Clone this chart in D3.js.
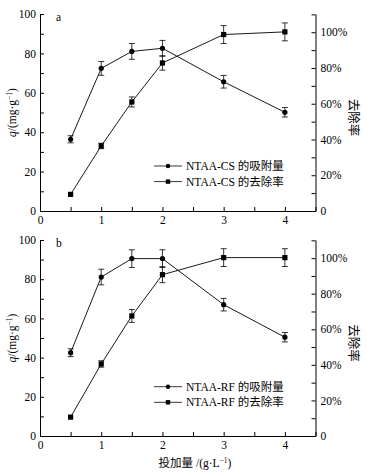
<!DOCTYPE html>
<html><head><meta charset="utf-8">
<script src="https://cdn.jsdelivr.net/npm/d3@7"></script>
<style>body{margin:0;background:#fff}svg{display:block}</style>
</head><body>
<script>
const doses = [0.5, 1, 1.5, 2, 3, 4];
const csAdsorption = [36.4, 72.4, 81.0, 82.6, 65.6, 50.1];
const csAdsorptionErr = [1.8, 3.5, 4.0, 4.0, 3.2, 2.4];
const csRemoval = [9.3, 36.4, 61.0, 82.8, 98.7, 100.2];
const csRemovalErr = [0, 1.5, 2.8, 4.0, 5.0, 5.0];
const rfAdsorption = [42.5, 81.1, 90.5, 90.5, 67.0, 50.4];
const rfAdsorptionErr = [2.0, 4.0, 4.5, 4.5, 3.2, 2.4];
const rfRemoval = [10.6, 40.5, 67.5, 90.7, 100.3, 100.3];
const rfRemovalErr = [0, 1.8, 3.6, 4.5, 5.0, 5.0];
const xTicks = [0, 1, 2, 3, 4];
const leftTicks = [0, 20, 40, 60, 80, 100];
const rightTicks = [0, 20, 40, 60, 80, 100];

const panels = [
  {tag: "a", name: "NTAA-CS", ads: csAdsorption, adsErr: csAdsorptionErr, rem: csRemoval, remErr: csRemovalErr, top: 14, bottom: 211, legendY: 166},
  {tag: "b", name: "NTAA-RF", ads: rfAdsorption, adsErr: rfAdsorptionErr, rem: rfRemoval, remErr: rfRemovalErr, top: 240, bottom: 436, legendY: 386.7}
];

const W = 367, H = 474;
const svg = d3.select("body").append("svg").attr("width", W).attr("height", H);
const serif = "'Liberation Serif','Times New Roman',serif";
const cjk = "'Noto Sans CJK SC',sans-serif";
const x = d3.scaleLinear().domain([0, 4.5]).range([40, 315.5]);
const FS = 11.5;

panels.forEach(p => {
  const g = svg.append("g");
  const yL = d3.scaleLinear().domain([0, 100]).range([p.bottom, p.top]);
  const yR = d3.scaleLinear().domain([0, 110.2]).range([p.bottom, p.top]);

  const ax = (sel) => sel.call(s => s.select(".domain").attr("stroke", "#000"))
      .call(s => s.selectAll("text").attr("font-family", serif).attr("font-size", FS).attr("fill", "#000"));
  g.append("g").attr("transform", `translate(40,0)`)
    .call(d3.axisLeft(yL).tickValues(d3.range(0, 101, 10)).tickSize(-4).tickSizeOuter(0)
      .tickFormat(d => leftTicks.includes(d) ? d : "").tickPadding(4))
    .call(ax);
  g.append("g").attr("transform", `translate(315.5,0)`)
    .call(d3.axisRight(yR).tickValues(d3.range(0, 111, 10)).tickSize(-4).tickSizeOuter(0)
      .tickFormat(d => rightTicks.includes(d) ? (d === 0 ? "0" : d + "%") : "").tickPadding(5))
    .call(ax);
  g.append("g").attr("transform", `translate(0,${p.bottom})`)
    .call(d3.axisBottom(x).tickValues(d3.range(0, 4.51, 0.5)).tickSize(-4).tickSizeOuter(0)
      .tickFormat(d => xTicks.includes(d) ? d : "").tickPadding(5))
    .call(ax);

  g.append("text").attr("x", 56).attr("y", p.top + 7).attr("font-family", serif).attr("font-size", FS).text(p.tag);

  const mid = (p.top + p.bottom) / 2;
  const yl = g.append("text").attr("transform", `translate(16,${mid}) rotate(-90)`).attr("text-anchor", "middle")
    .attr("font-family", serif).attr("font-size", FS);
  yl.append("tspan").attr("font-style", "italic").text("q");
  yl.append("tspan").text("/(mg·g");
  yl.append("tspan").attr("font-size", 7.5).attr("dy", -4).text("−1");
  yl.append("tspan").attr("dy", 4).text(")");

  g.append("text").attr("transform", `translate(349,${mid + 5}) rotate(90)`).attr("text-anchor", "middle")
    .attr("font-family", cjk).attr("font-size", 12.5).text("去除率");

  const line = (ys, sc) => d3.line().x((d, i) => x(doses[i])).y(d => sc(d))(ys);
  g.append("path").attr("d", line(p.ads, yL)).attr("fill", "none").attr("stroke", "#000").attr("stroke-width", 0.9);
  g.append("path").attr("d", line(p.rem, yR)).attr("fill", "none").attr("stroke", "#000").attr("stroke-width", 0.9);

  const errs = (vals, errv, sc) => {
    doses.forEach((d, i) => {
      if (!errv[i]) return;
      const cx = x(d), y1 = sc(vals[i] - errv[i]), y2 = sc(vals[i] + errv[i]);
      g.append("line").attr("x1", cx).attr("x2", cx).attr("y1", y1).attr("y2", y2).attr("stroke", "#000").attr("stroke-width", 0.8);
      [y1, y2].forEach(yy => g.append("line").attr("x1", cx - 3).attr("x2", cx + 3).attr("y1", yy).attr("y2", yy).attr("stroke", "#000").attr("stroke-width", 0.8));
    });
  };
  errs(p.ads, p.adsErr, yL);
  errs(p.rem, p.remErr, yR);

  g.selectAll(null).data(p.ads).enter().append("circle")
    .attr("cx", (d, i) => x(doses[i])).attr("cy", d => yL(d)).attr("r", 2.6).attr("fill", "#000");
  g.selectAll(null).data(p.rem).enter().append("rect")
    .attr("x", (d, i) => x(doses[i]) - 2.6).attr("y", d => yR(d) - 2.6).attr("width", 5.2).attr("height", 5.2).attr("fill", "#000");

  [["circle", "的吸附量"], ["rect", "的去除率"]].forEach(([m, lab], k) => {
    const yy = p.legendY + k * 15.6;
    g.append("line").attr("x1", 154).attr("x2", 182).attr("y1", yy).attr("y2", yy).attr("stroke", "#000").attr("stroke-width", 0.8);
    if (m === "circle") g.append("circle").attr("cx", 168).attr("cy", yy).attr("r", 2.2).attr("fill", "#000");
    else g.append("rect").attr("x", 165.8).attr("y", yy - 2.2).attr("width", 4.4).attr("height", 4.4).attr("fill", "#000");
    const t = g.append("text").attr("x", 186).attr("y", yy + 4).attr("font-size", FS);
    t.append("tspan").attr("font-family", serif).text(p.name + " ");
    t.append("tspan").attr("font-family", cjk).text(lab);
  });
});

const xl = svg.append("text").attr("x", 195).attr("y", 467).attr("text-anchor", "middle").attr("font-size", FS);
xl.append("tspan").attr("font-family", cjk).text("投加量");
xl.append("tspan").attr("font-family", serif).text(" /(g·L");
xl.append("tspan").attr("font-family", serif).attr("font-size", 7.5).attr("dy", -4).text("−1");
xl.append("tspan").attr("font-family", serif).attr("dy", 4).text(")");
</script>
</body></html>
